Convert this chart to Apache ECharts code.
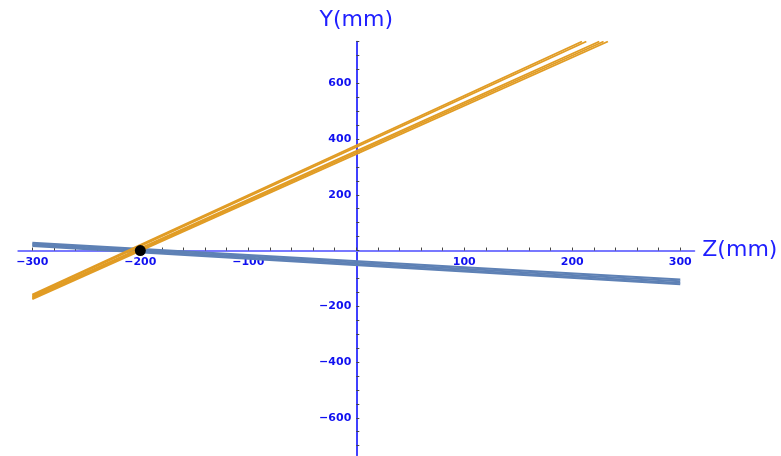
<!DOCTYPE html>
<html>
<head>
<meta charset="utf-8">
<script src="https://cdn.jsdelivr.net/npm/echarts@6/dist/echarts.min.js"></script>
<style>html,body{margin:0;padding:0;background:#fff}#c{width:781px;height:456px}</style>
</head>
<body>
<div id="c"></div>
<script>
// ---- data ----
const xRange = [-313, 313];
const yRange = [-735, 750];
const xTickLabels = [-300, -200, -100, 100, 200, 300];
const yTickLabels = [-600, -400, -200, 200, 400, 600];
const xMinorStep = 20;
const yMinorStep = 50;

const orange1 = [[-300, -158], [209, 750]];
const orange2 = [[-300, -162], [213, 750]];
const orange3 = [[-300, -166], [225, 750]];
const orange4 = [[-300, -170], [229, 750]];
const orange5 = [[-300, -174], [233, 750]];

const blue1 = [[-300, 28], [300, -104]];
const blue2 = [[-300, 24], [300, -110]];
const blue3 = [[-300, 20], [300, -116]];
const blue4 = [[-300, 16], [300, -121]];

const focusPoint = [[-200, 0]];

// ---- helpers ----
function ticks(min, max, step) {
  const out = [];
  for (let v = Math.ceil(min / step) * step; v <= max; v += step) out.push(v);
  return out;
}
const fmt = v => (v < 0 ? '\u2212' + Math.abs(v) : String(v));

const ORANGE = '#E19C24';
const BLUE = '#5E81B5';
const FONT = 'DejaVu Sans';

// grid geometry (pixels)
const G = { left: 18.3, top: 41.5, width: 676, height: 413.9 };
// pixel offsets to place the axes through the origin
const xZeroPx = G.width * (0 - xRange[0]) / (xRange[1] - xRange[0]);
const yZeroPx = G.height * (yRange[1] - 0) / (yRange[1] - yRange[0]);

const chart = echarts.init(document.getElementById('c'), null, { renderer: 'canvas' });

function lineSeries(data, color, z) {
  return {
    type: 'line', data: data, showSymbol: false, symbol: 'none',
    lineStyle: { color: color, width: 1.9 }, z: z, silent: true, animation: false
  };
}

chart.setOption({
  animation: false,
  grid: { left: G.left, top: G.top, width: G.width, height: G.height,
    containLabel: false, outerBoundsMode: 'none' },
  xAxis: {
    type: 'value', min: xRange[0], max: xRange[1], position: 'bottom',
    offset: -(G.height - yZeroPx),
    name: 'Z(mm)', nameLocation: 'end', nameGap: 8,
    nameTextStyle: { color: '#1f1fff', fontSize: 22, fontFamily: FONT, verticalAlign: 'middle' },
    axisLine: { onZero: false, lineStyle: { color: '#7878ff', width: 2 } },
    axisTick: { show: true, inside: true, length: 3, lineStyle: { color: '#444', width: 1 },
      customValues: ticks(-300, 300, xMinorStep) },
    axisLabel: { customValues: xTickLabels, formatter: fmt, color: '#1010f0', fontWeight: 'bold',
      fontSize: 11, fontFamily: FONT, margin: 6 },
    splitLine: { show: false }
  },
  yAxis: {
    type: 'value', min: yRange[0], max: yRange[1], position: 'left',
    offset: -xZeroPx,
    name: 'Y(mm)', nameLocation: 'end', nameGap: 10,
    nameTextStyle: { color: '#1f1fff', fontSize: 22, fontFamily: FONT, align: 'center' },
    axisLine: { onZero: false, lineStyle: { color: '#0000ff', width: 1.5 } },
    axisTick: { show: true, inside: true, length: 3, lineStyle: { color: '#444', width: 1 },
      customValues: ticks(-700, 750, yMinorStep) },
    axisLabel: { customValues: yTickLabels, formatter: fmt, color: '#1010f0', fontWeight: 'bold',
      fontSize: 11, fontFamily: FONT, margin: 5 },
    splitLine: { show: false }
  },
  series: [
    lineSeries(blue1, BLUE, 2),
    lineSeries(blue2, BLUE, 2),
    lineSeries(blue3, BLUE, 2),
    lineSeries(blue4, BLUE, 2),
    lineSeries(orange1, ORANGE, 3),
    lineSeries(orange2, ORANGE, 3),
    lineSeries(orange3, ORANGE, 3),
    lineSeries(orange4, ORANGE, 3),
    lineSeries(orange5, ORANGE, 3),
    { type: 'scatter', data: focusPoint, symbolSize: 11,
      itemStyle: { color: '#000', opacity: 1 }, z: 5, silent: true }
  ]
});
</script>
</body>
</html>
